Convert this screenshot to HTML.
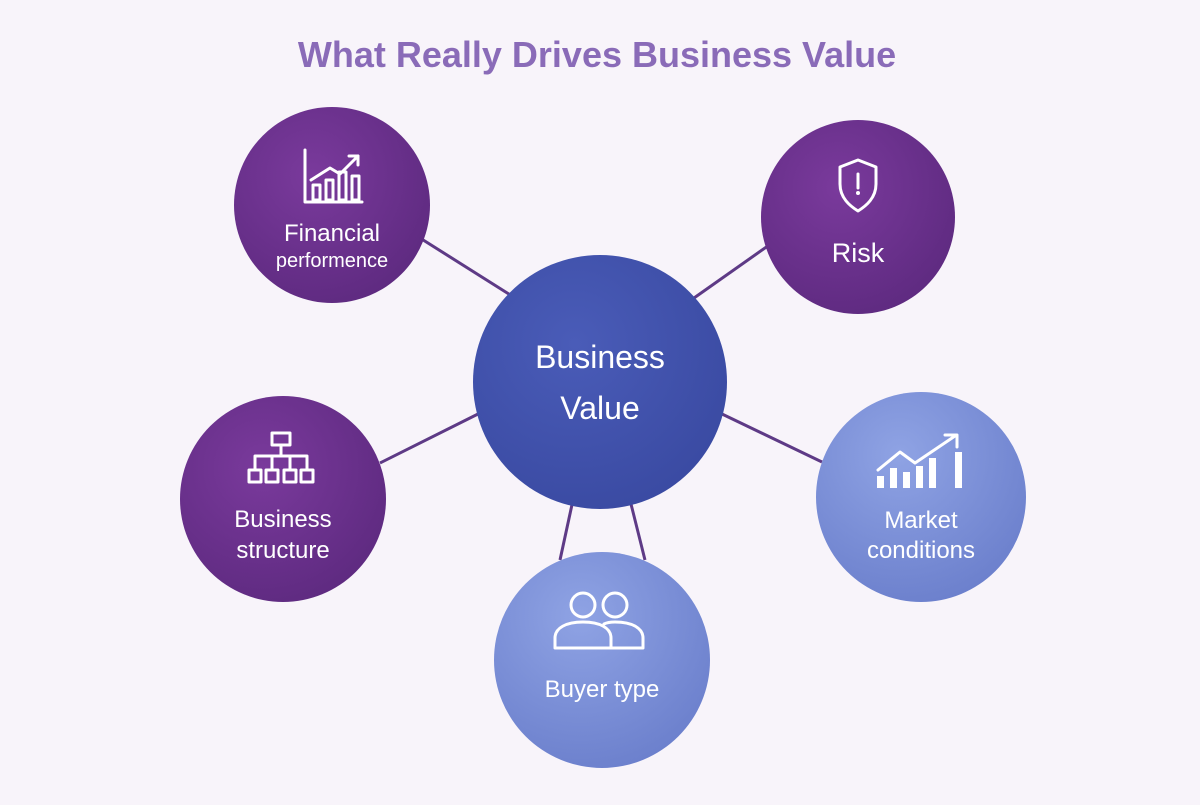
<!DOCTYPE html>
<html><head><meta charset="utf-8"><style>
body{margin:0;width:1200px;height:800px;background:#f8f4fa;overflow:hidden;font-family:"Liberation Sans",sans-serif;}
</style></head><body>
<svg width="1200" height="800" viewBox="0 0 1200 800" xmlns="http://www.w3.org/2000/svg">
<defs>
<radialGradient id="gp" cx="40%" cy="35%" r="70%"><stop offset="0" stop-color="#7a3a9c"/><stop offset="1" stop-color="#5e2a80"/></radialGradient>
<radialGradient id="gc" cx="40%" cy="35%" r="70%"><stop offset="0" stop-color="#4a5cb8"/><stop offset="1" stop-color="#3a4aa2"/></radialGradient>
<radialGradient id="gl" cx="40%" cy="30%" r="75%"><stop offset="0" stop-color="#8fa3e4"/><stop offset="1" stop-color="#6b7fcc"/></radialGradient>
</defs>
<text x="597" y="67" text-anchor="middle" font-size="36" font-weight="bold" fill="#8a6bb8">What Really Drives Business Value</text>
<g stroke="#5e3a86" stroke-width="3">
<line x1="420" y1="238" x2="512" y2="296"/>
<line x1="772" y1="243" x2="694" y2="298"/>
<line x1="380" y1="463" x2="482" y2="412"/>
<line x1="822" y1="462" x2="722" y2="414"/>
<line x1="573" y1="500" x2="560" y2="560"/>
<line x1="630" y1="500" x2="645" y2="560"/>
</g>
<circle cx="332" cy="205" r="98" fill="url(#gp)"/>
<circle cx="858" cy="217" r="97" fill="url(#gp)"/>
<circle cx="283" cy="499" r="103" fill="url(#gp)"/>
<circle cx="921" cy="497" r="105" fill="url(#gl)"/>
<circle cx="602" cy="660" r="108" fill="url(#gl)"/>
<circle cx="600" cy="382" r="127" fill="url(#gc)"/>
<g fill="#fff" text-anchor="middle">
<text x="600" y="368" font-size="32">Business</text>
<text x="600" y="419" font-size="32">Value</text>
<text x="332" y="241" font-size="24">Financial</text>
<text x="332" y="267" font-size="20">performence</text>
<text x="858" y="262" font-size="27">Risk</text>
<text x="283" y="527" font-size="24">Business</text>
<text x="283" y="558" font-size="24">structure</text>
<text x="921" y="528" font-size="24">Market</text>
<text x="921" y="558" font-size="24">conditions</text>
<text x="602" y="697" font-size="24">Buyer type</text>
</g>
<g fill="none" stroke="#fff" stroke-width="3" stroke-linecap="round" stroke-linejoin="round">
<!-- financial -->
<path d="M305 150 V202 H362"/>
<rect x="313" y="185" width="7" height="15"/><rect x="326" y="180" width="7" height="20"/><rect x="339" y="172" width="7" height="28"/><rect x="352" y="176" width="7" height="24"/>
<path d="M311 180 L330 168 L340 174 L358 156"/><path d="M349 156 H358 V165"/>
<!-- risk -->
<path d="M858 160 L876 167 V184 C876 198 866 206 858 211 C850 206 840 198 840 184 V167 Z"/>
<path d="M858 174 V188"/>
<!-- structure -->
<rect x="272" y="433" width="18" height="12"/>
<path d="M281 445 V456 M255 456 H307 M255 456 V470 M272 456 V470 M290 456 V470 M307 456 V470"/>
<rect x="249" y="470" width="12" height="12"/><rect x="266" y="470" width="12" height="12"/><rect x="284" y="470" width="12" height="12"/><rect x="301" y="470" width="12" height="12"/>
<!-- market -->
<path d="M878 470 L900 452 L915 463 L955 436"/><path d="M945 435 H957 V447"/>
<!-- buyer -->
<circle cx="583" cy="605" r="12"/><circle cx="615" cy="605" r="12"/>
<path d="M555 648 V638 C555 628 566 622 583 622 C600 622 611 628 611 638 V648 Z"/>
<path d="M604 624 C608 622 612 622 615 622 C632 622 643 628 643 638 V648 H611"/>
</g>
<g fill="#fff">
<rect x="877" y="476" width="7" height="12"/><rect x="890" y="468" width="7" height="20"/><rect x="903" y="472" width="7" height="16"/><rect x="916" y="466" width="7" height="22"/><rect x="929" y="458" width="7" height="30"/><rect x="942" y="450" width="7" height="38" opacity="0"/><rect x="955" y="452" width="7" height="36"/>
<circle cx="858" cy="193" r="2"/>
</g>
</svg>
</body></html>
